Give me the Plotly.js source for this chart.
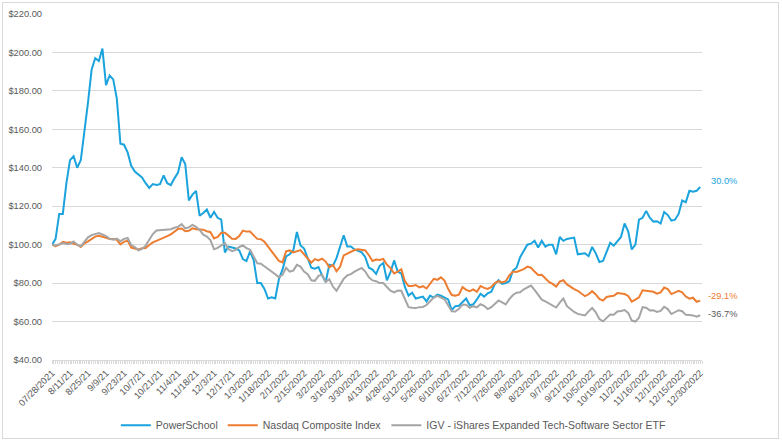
<!DOCTYPE html>
<html>
<head>
<meta charset="utf-8">
<script src="https://cdn.plot.ly/plotly-3.0.1.min.js"></script>
<style>
  html, body { margin: 0; padding: 0; background: #fff; }
  #frame { position: absolute; left: 2px; top: 2px; width: 777px; height: 437px; border: 1px solid #d9d9d9; box-sizing: border-box; }
  #chart { position: absolute; left: 0; top: 0; width: 782px; height: 444px; }
</style>
</head>
<body>
<div id="frame"></div>
<div id="chart"></div>
<script>
// Trading-day step between stored values (values every 2 trading days, 7/28/2021 .. 12/30/2022)
const STEP = 2;
const LABEL_EVERY = 10; // tick label every 10 trading days

const tickLabels = [
  "07/28/2021","8/11/21","8/25/21","9/9/21","9/23/21","10/7/21","10/21/21","11/4/21","11/18/21","12/3/21",
  "12/17/21","1/3/2022","1/18/2022","2/1/2022","2/15/2022","3/2/2022","3/16/2022","3/30/2022","4/13/2022","4/28/2022",
  "5/12/2022","5/26/2022","6/10/2022","6/27/2022","7/12/2022","7/26/2022","8/9/2022","8/23/2022","9/7/2022","9/21/2022",
  "10/5/2022","10/19/2022","11/2/2022","11/16/2022","12/1/2022","12/15/2022","12/30/2022"
];

const seriesNames = ["PowerSchool", "Nasdaq Composite Index", "IGV - iShares Expanded Tech-Software Sector ETF"];
const endLabels = ["30.0%", "-29.1%", "-36.7%"];

const powerSchool = [
  100, 103, 116, 116, 132, 144, 146, 140, 144, 158,
  174, 191, 197, 195.5, 202, 183, 188, 186, 176, 152.5,
  152, 148, 141, 138, 136.5, 135, 132, 129.5, 131.5, 131,
  131.5, 136, 132, 131, 134.5, 137.5, 145.5, 142, 123, 126,
  128, 115, 116.5, 118.3, 114, 117, 114, 113, 96, 99,
  98.5, 98, 97, 92.5, 91.5, 96.5, 92, 80, 80, 77,
  72, 72.6, 72, 82, 87, 93.9, 95, 97, 106.6, 99.6,
  98, 92.5, 88, 87.5, 88.3, 84, 80.5, 89.5, 89, 93,
  98.8, 104.9, 99, 99, 97.5, 96.7, 96, 93.5, 88, 87,
  84.8, 89, 90.5, 81.5, 85.7, 91.8, 86, 85, 78, 73.5,
  75, 72, 72.5, 73, 70.5, 73.5, 72.5, 74, 73.4, 72.6,
  71.5, 66, 68, 68.2, 70, 72, 68.5, 69, 71.5, 74.5,
  73, 74.7, 75.5, 79.6, 81.5, 79.6, 80, 81, 86.5, 88,
  93.5, 97, 100, 100.5, 102, 98.5, 102, 99, 100, 100,
  95, 104, 102, 103, 103.5, 103.7, 95, 95.3, 95.5, 94,
  98.8, 95.5, 91, 91.5, 96, 100.9, 99.5, 102, 104, 111,
  107, 97.5, 100, 113, 114, 117.6, 114, 112, 112.2, 111,
  117, 115.4, 112.5, 113, 116, 123, 122, 128, 127.5, 128,
  130
];

const nasdaq = [
  100, 99.2, 100, 101.5, 101, 101.2, 100.5, 100, 98.8, 100.7,
  101.7, 103.2, 104.2, 104.6, 104.2, 103.6, 103, 103, 102.5, 100.2,
  101.5, 102.2, 98.5, 97.8, 97.5, 98.2, 98.3, 99.8, 101.2, 102,
  102.8, 103.3, 104.4, 105.4, 106.8, 108.2, 108.4, 107, 107.2, 108.5,
  108, 108, 107.8, 107, 106.5, 103.2, 104, 106.2, 106.2, 104.7,
  103.1, 103, 104.5, 107.3, 106.8, 106.8, 105, 103, 102.8, 101.5,
  99, 96.8, 94, 91.6, 90.8, 96.5, 97, 96, 96.8, 97.2,
  95, 93, 90.6, 92.5, 91.8, 92.7, 91.2, 88.2, 89.5, 86.2,
  88.5, 94.4, 95.3, 96.2, 97.2, 97.6, 97.4, 97, 94.5, 91.5,
  92.3, 92, 92.6, 89.6, 87.8, 85, 86, 87.2, 81, 78.5,
  78.5, 79, 77.8, 78.4, 77.2, 79.4, 82.2, 81.7, 83, 81.3,
  77, 73.8, 73.5, 74, 78, 76.5, 75.8, 76.7, 75.5, 78.5,
  77.5, 77, 78, 80, 81, 80.3, 81, 84, 86, 85.8,
  86.4, 87.3, 88.6, 88, 86, 84.2, 84.3, 82.5, 80.6, 79.6,
  78.2, 80.8, 81.5, 79.3, 78, 76.9, 76, 74.4, 73.2, 74.2,
  75.8, 74.1, 71.8, 70.9, 72.8, 73.2, 73.4, 74.8, 74.5, 74.3,
  73.3, 70.4, 71.4, 72.6, 76.3, 76, 75.5, 75.5, 74.5, 75.2,
  77.7, 76.9, 74.3, 75.3, 76, 75.2, 73, 71.9, 72.4, 70.3,
  70.9
];

const igv = [
  100, 99.7, 100.1, 100.8, 100.3, 100.5, 101.6, 100, 99.2, 101.5,
  103.8, 105, 105.4, 106, 105.3, 104.5, 103, 102.6, 103.2, 101.8,
  103, 103.5, 99.8, 98.8, 97, 97.8, 99.5, 102.5, 105.5, 107.4,
  107.6, 107.7, 108.1, 108, 108.8, 109.3, 110.7, 108.5, 109, 110.3,
  109.3, 107.7, 105.2, 104.2, 102.4, 97.6, 98.3, 99.8, 100.8, 97.7,
  96.6, 97.3, 98.8, 99.6, 98.2, 97.3, 94, 90.3, 90.1, 88.8,
  87.6, 86.3, 84.6, 83.1, 84.3, 88, 86, 86.5, 89.5, 88.6,
  86, 84.6, 81.5, 81.2, 83.8, 84.4, 80.6, 82, 78.2, 76,
  79, 82.2, 84, 84.7, 86, 86.8, 87.9, 86, 83, 81.4,
  81, 80, 80, 78, 76.1, 75.2, 76.1, 76, 71.5, 67.5,
  67.2, 67, 67.5, 67.6, 68.6, 70.6, 72.5, 73.4, 72.6, 71.6,
  68.5, 65.3, 65.2, 66.6, 68.8, 68.8, 67.2, 68, 67.4, 69,
  68.2, 66.5, 67.5, 69.3, 71, 70, 68.9, 71.7, 73.8, 75,
  75.2, 76.8, 77.7, 78.7, 76.5, 73.8, 71.4, 70.5, 69.3, 68.2,
  67.3, 69.8, 72, 68, 66.3, 65, 64, 63.7, 63.2, 65.3,
  67.1, 64.8, 61.3, 60.1, 62, 63.6, 63.5, 65.2, 65.5, 66,
  64.5, 60.5, 60, 62, 67.5, 67.2, 65.8, 65.9, 65, 65.5,
  67.7, 66.5, 63.9, 64.9, 65.9, 65.4, 63.5, 63.4, 63.2, 62.5,
  63.3
];

const yTicks = [40, 60, 80, 100, 120, 140, 160, 180, 200, 220];

const colors = ["#1AA3DC", "#ED7D31", "#A5A5A5"];
const labelColors = ["#1AA3DC", "#ED7D31", "#595959"];
const FONT = "Liberation Sans, Arial, sans-serif";
const FS = 9.3;

const allSeries = [powerSchool, nasdaq, igv];
const dayIndex = powerSchool.map((_, k) => k * STEP);

const traces = allSeries.map((vals, s) => ({
  type: "scatter",
  mode: "lines",
  name: seriesNames[s],
  x: dayIndex,
  y: vals,
  line: { color: colors[s], width: 2 },
  hoverinfo: "skip"
}));

const lastX = dayIndex[dayIndex.length - 1];
const labelYShift = [6, 5, 1];
const annotations = allSeries.map((vals, s) => ({
  x: lastX,
  y: vals[vals.length - 1],
  xref: "x",
  yref: "y",
  text: endLabels[s],
  showarrow: false,
  xanchor: "right",
  yanchor: "middle",
  xshift: 39,
  yshift: labelYShift[s],
  font: { family: FONT, size: FS, color: labelColors[s] }
}));

const layout = {
  width: 782,
  height: 444,
  margin: { l: 52, r: 80, t: 14, b: 84 },
  paper_bgcolor: "rgba(0,0,0,0)",
  plot_bgcolor: "rgba(0,0,0,0)",
  showlegend: true,
  legend: {
    orientation: "h",
    xref: "container",
    yref: "container",
    x: 0.503,
    xanchor: "center",
    y: 0.042,
    yanchor: "middle",
    font: { family: FONT, size: 10.5, color: "#595959" },
    itemwidth: 30
  },
  xaxis: {
    type: "linear",
    range: [0, 361],
    tickmode: "array",
    tickvals: tickLabels.map((_, k) => k * LABEL_EVERY),
    ticktext: tickLabels,
    tickangle: -45,
    tickfont: { family: FONT, size: FS, color: "#595959" },
    ticks: "outside",
    ticklen: 3,
    tickcolor: "#d9d9d9",
    showgrid: false,
    zeroline: false,
    showline: true,
    linecolor: "#d9d9d9",
    linewidth: 1,
    minor: { tickmode: "linear", tick0: 0, dtick: 1, ticks: "outside", ticklen: 3, tickcolor: "#d9d9d9", showgrid: false },
    fixedrange: true
  },
  yaxis: {
    range: [40, 220],
    tickmode: "array",
    tickvals: yTicks,
    ticktext: yTicks.map(v => "$" + v.toFixed(2)),
    tickfont: { family: FONT, size: FS, color: "#595959" },
    showgrid: true,
    gridcolor: "#d9d9d9",
    gridwidth: 1,
    zeroline: false,
    showline: false,
    ticks: "",
    ticklabelstandoff: 9,
    fixedrange: true
  },
  annotations: annotations
};

Plotly.newPlot("chart", traces, layout, { displayModeBar: false, staticPlot: true });
</script>
</body>
</html>
